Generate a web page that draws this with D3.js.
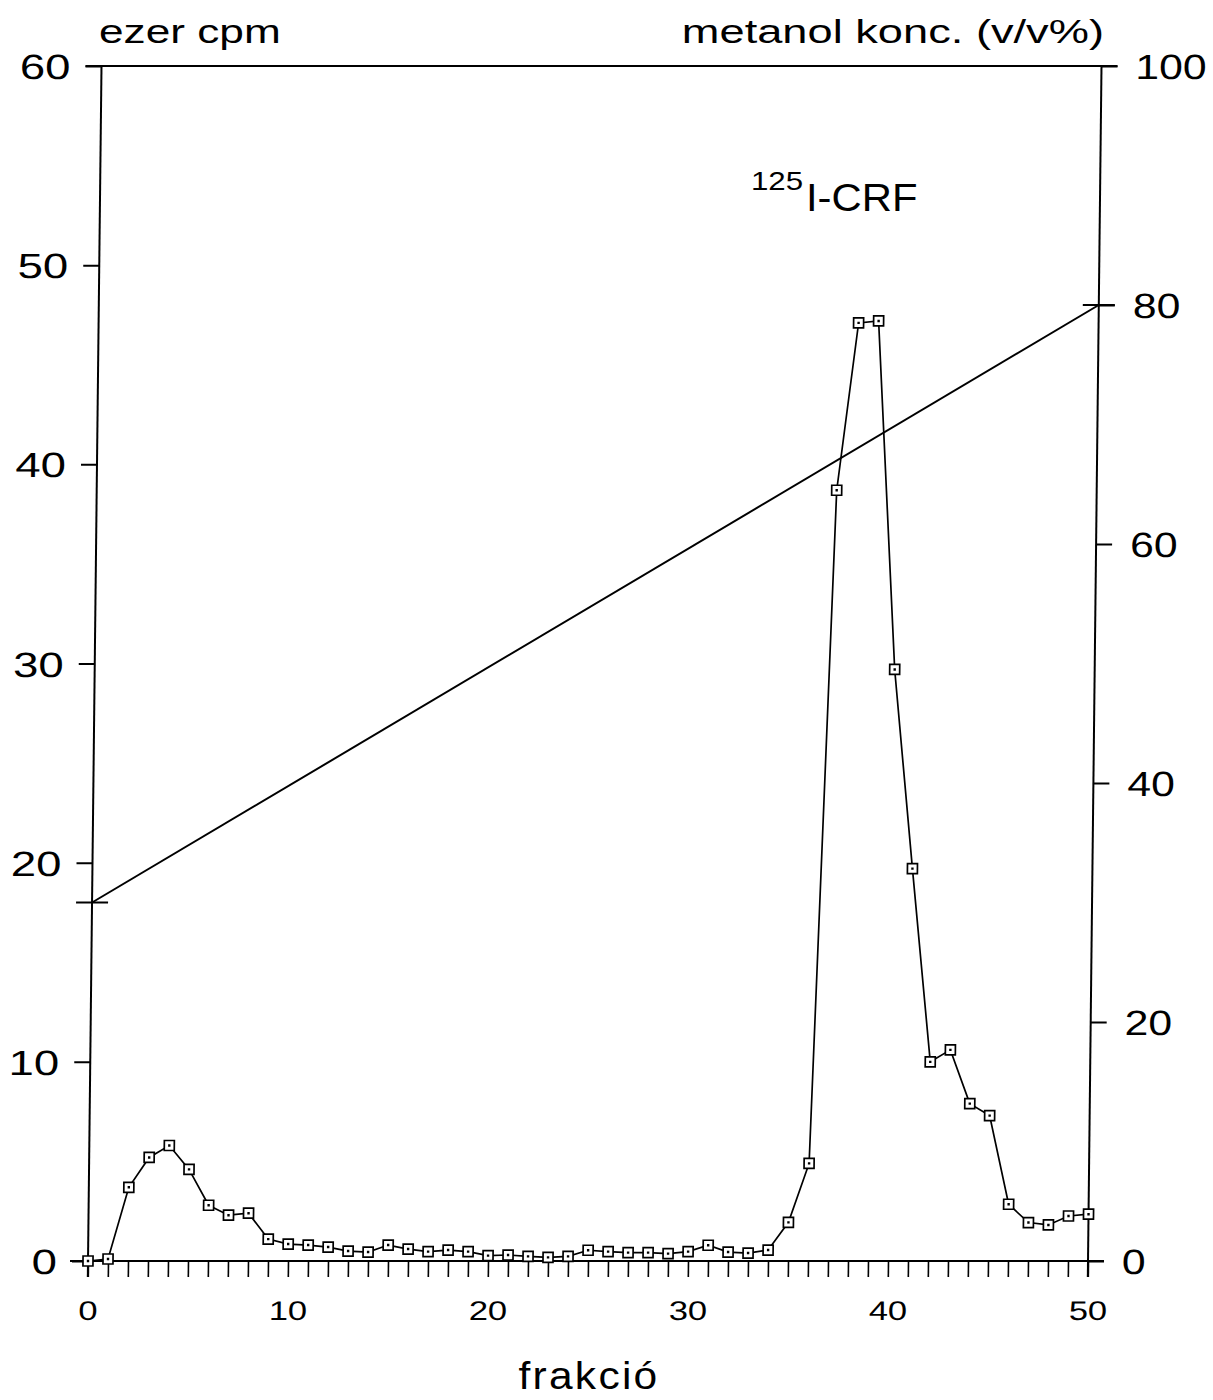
<!DOCTYPE html>
<html>
<head>
<meta charset="utf-8">
<title>frakció</title>
<script src="https://cdn.jsdelivr.net/npm/d3@7"></script>
<style>
    body { margin: 0; background: #fff; }
    svg text { font-family: "Liberation Sans", Arial, sans-serif; fill: #000; }
</style>
</head>
<body>
<svg width="1213" height="1400"></svg>
<script>
    // frakciók es mert aktivitas (ezer cpm)
    var fractions = d3.range(0, 51);
    var cpm = [0, 0.1, 3.7, 5.2, 5.8, 4.6, 2.8, 2.3, 2.4, 1.1,
        0.85, 0.8, 0.7, 0.5, 0.45, 0.8, 0.6, 0.47, 0.55, 0.47,
        0.27, 0.3, 0.23, 0.18, 0.23, 0.54, 0.47, 0.42, 0.42, 0.37,
        0.47, 0.79, 0.45, 0.4, 0.55, 1.94, 4.9, 38.7, 47.1, 47.2,
        29.7, 19.7, 10.0, 10.6, 7.9, 7.3, 2.85, 1.93, 1.81, 2.26, 2.35];
    // metanol gradiens
    var gradFrac = [0, 50];
    var methanol = [30, 80];

    var xLabels = [0, 10, 20, 30, 40, 50];
    var leftTicks = [0, 10, 20, 30, 40, 50, 60];
    var rightTicks = [0, 20, 40, 60, 80, 100];

    var svg = d3.select("svg");
    var base = 1261;
    var x = d3.scaleLinear().domain([0, 50]).range([88, 1088]);
    var yL = d3.scaleLinear().domain([0, 60]).range([base, 66]);
    var yR = d3.scaleLinear().domain([0, 100]).range([base, 66]);

    // the scanned original is slightly sheared
    var skew = Math.atan(-13.5 / (base - 66)) * 180 / Math.PI;
    var g = svg.append("g")
        .attr("transform", "translate(0," + base + ") skewX(" + skew + ") translate(0," + (-base) + ")");

    function frameLine(x1, y1, x2, y2) {
        g.append("line")
            .attr("x1", x1).attr("y1", y1).attr("x2", x2).attr("y2", y2)
            .attr("stroke", "#000").attr("stroke-width", 2);
    }

    // x tengely
    var xAxis = g.append("g")
        .attr("transform", "translate(0," + base + ")")
        .call(d3.axisBottom(x).tickValues(fractions).tickSize(16)
            .tickFormat(function (d) { return xLabels.indexOf(d) >= 0 ? d : ""; }));
    xAxis.select(".domain").remove();
    xAxis.selectAll(".tick line").attr("stroke-width", 1.6);
    xAxis.selectAll(".tick text")
        .attr("y", 0).attr("dy", 0)
        .attr("font-size", 27)
        .attr("transform", "translate(0,59) scale(1.28,1)");

    // bal y tengely
    var lAxis = g.append("g")
        .attr("transform", "translate(" + x(0) + ",0)")
        .call(d3.axisLeft(yL).tickValues(leftTicks).tickSize(16));
    lAxis.select(".domain").remove();
    lAxis.selectAll(".tick line").attr("stroke-width", 2);
    lAxis.selectAll(".tick text")
        .attr("x", 0).attr("dy", "0.36em")
        .attr("font-size", 35)
        .attr("text-anchor", "end")
        .attr("transform", "translate(-31,0) scale(1.3,1)");

    // jobb y tengely
    var rAxis = g.append("g")
        .attr("transform", "translate(" + x(50) + ",0)")
        .call(d3.axisRight(yR).tickValues(rightTicks).tickSize(16));
    rAxis.select(".domain").remove();
    rAxis.selectAll(".tick line").attr("stroke-width", 2);
    rAxis.selectAll(".tick text")
        .attr("x", 0).attr("dy", "0.36em")
        .attr("font-size", 35)
        .attr("text-anchor", "start")
        .attr("transform", "translate(34,0) scale(1.22,1)");

    // keret
    frameLine(x(0), yL(60), x(0), base + 16);
    frameLine(x(50), yR(100), x(50), base + 16);
    frameLine(x(0) - 16, yL(60), x(50) + 16, yL(60));
    frameLine(x(0) - 18, base, x(50) + 16, base);

    // metanol gradiens vonal
    var gradLine = d3.line()
        .x(function (d, i) { return x(gradFrac[i]); })
        .y(function (d) { return yR(d); });
    g.append("path")
        .attr("d", gradLine(methanol))
        .attr("fill", "none").attr("stroke", "#000").attr("stroke-width", 2);
    g.selectAll(".gradEnd")
        .data(methanol)
        .enter()
        .append("line")
        .attr("x1", function (d, i) { return x(gradFrac[i]) - 16; })
        .attr("x2", function (d, i) { return x(gradFrac[i]) + 16; })
        .attr("y1", function (d) { return yR(d); })
        .attr("y2", function (d) { return yR(d); })
        .attr("stroke", "#000").attr("stroke-width", 2);

    // aktivitas gorbe
    var cpmLine = d3.line()
        .x(function (d, i) { return x(fractions[i]); })
        .y(function (d) { return yL(d); });
    g.append("path")
        .attr("d", cpmLine(cpm))
        .attr("fill", "none").attr("stroke", "#000").attr("stroke-width", 1.7);

    var pts = g.selectAll(".pt")
        .data(cpm)
        .enter()
        .append("g")
        .attr("transform", function (d, i) { return "translate(" + x(fractions[i]) + "," + yL(d) + ")"; });
    pts.append("rect")
        .attr("x", -5).attr("y", -5)
        .attr("width", 10).attr("height", 10)
        .attr("fill", "#fff").attr("stroke", "#000").attr("stroke-width", 1.7);
    pts.append("rect")
        .attr("x", -1.2).attr("y", -1.2)
        .attr("width", 2.4).attr("height", 2.4)
        .attr("fill", "#000");

    // feliratok
    function label(txt, tx, ty, size, sx, anchor, spacing) {
        return svg.append("text")
            .attr("transform", "translate(" + tx + "," + ty + ") scale(" + sx + ",1)")
            .attr("font-size", size)
            .attr("text-anchor", anchor)
            .attr("letter-spacing", spacing || 0)
            .text(txt);
    }
    label("ezer cpm", 99, 43, 34, 1.3, "start");
    label("metanol konc. (v/v%)", 1104, 43, 34, 1.33, "end");
    label("125", 751, 190, 25, 1.25, "start");
    label("I-CRF", 806, 211, 38, 1.1, "start");
    label("frakció", 589, 1389, 38, 1.12, "middle", 2);
</script>
</body>
</html>
